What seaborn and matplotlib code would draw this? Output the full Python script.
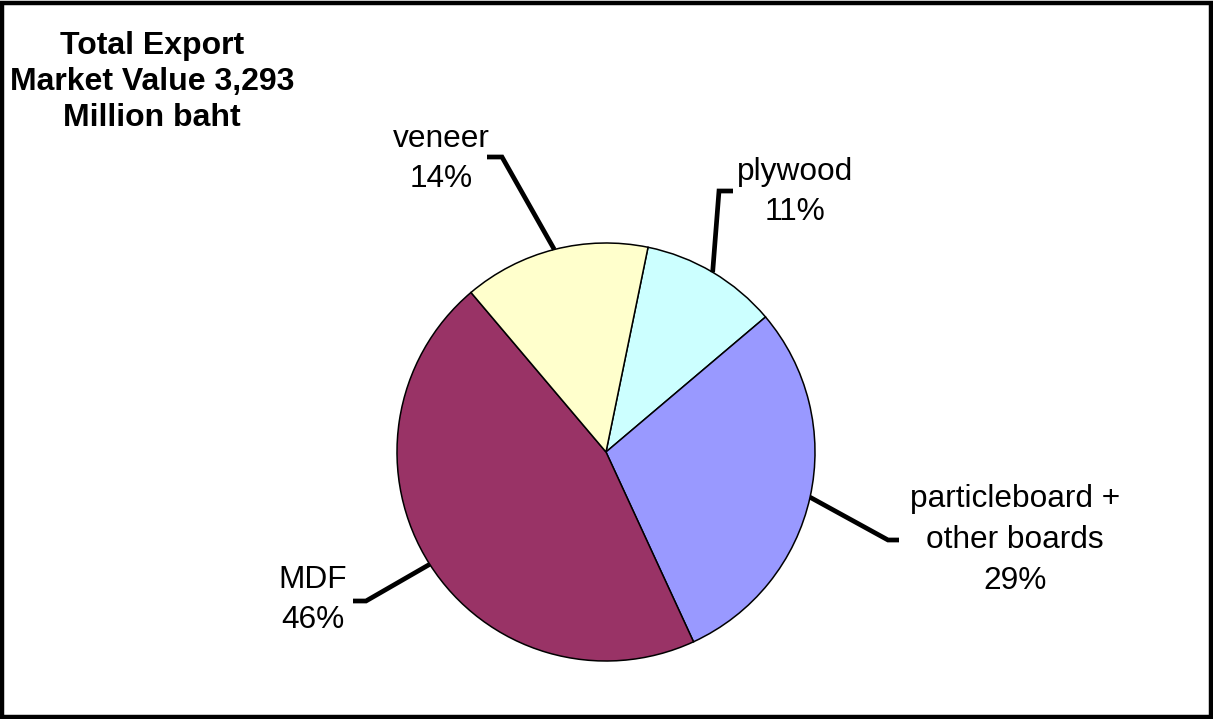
import numpy as np
import matplotlib
matplotlib.use("Agg")
import matplotlib.pyplot as plt
import matplotlib.patches as mpatches
import seaborn as sns

# Export market share by product (%)
categories = ["plywood", "particleboard +\nother boards", "MDF", "veneer"]
shares = [10.6, 29.3, 45.7, 14.4]
colors = ["#CCFFFF", "#9999FF", "#993366", "#FFFFCC"]
title_text = "Total Export\nMarket Value 3,293\nMillion baht"

sns.set_theme(style="white")
plt.rcParams["font.family"] = ["Liberation Sans", "DejaVu Sans"]

W, H = 1213, 719
fig = plt.figure(figsize=(W / 100, H / 100), dpi=100)
fig.patch.set_facecolor("white")
ax = fig.add_axes([0, 0, 1, 1])

cx, cy, r = 606, H - 452, 209
wedges, _ = ax.pie(
    shares,
    colors=colors,
    startangle=78.4,
    counterclock=False,
    center=(cx, cy),
    radius=r,
    wedgeprops=dict(edgecolor="black", linewidth=1.1),
    frame=True,
)
ax.set_xlim(0, W)
ax.set_ylim(0, H)
ax.set_aspect("equal")
ax.axis("off")

# label layout: (elbow point, end of horizontal tick, text centre) in pixels from top-left
layout = [
    ((719, 191), (733, 191), (795, 192)),
    ((888, 540), (899, 540), (1015, 540)),
    ((366, 601), (353, 601), (313, 600)),
    ((502, 157), (487, 157), (441, 159)),
]

for w, val, name, (elbow, tick, txt) in zip(wedges, shares, categories, layout):
    ang = np.deg2rad((w.theta1 + w.theta2) / 2)
    x0 = cx + r * np.cos(ang)
    y0 = cy + r * np.sin(ang)
    xs = [x0, elbow[0], tick[0]]
    ys = [y0, H - elbow[1], H - tick[1]]
    ax.plot(xs, ys, color="black", lw=3.4, solid_capstyle="butt",
            solid_joinstyle="miter")
    ax.text(txt[0], H - txt[1], f"{name}\n{val:.0f}%", ha="center", va="center",
            fontsize=22.8, color="black", linespacing=1.46)

ax.text(152, H - 82, title_text, ha="center", va="center", fontsize=23,
        fontweight="bold", color="black", linespacing=1.27)

# outer frame
fig.patches.append(mpatches.Rectangle((0.0016, 0.003), 0.9968, 0.993,
                                      transform=fig.transFigure, fill=False,
                                      edgecolor="black", linewidth=3.2))

fig.savefig("out.png", dpi=100)
